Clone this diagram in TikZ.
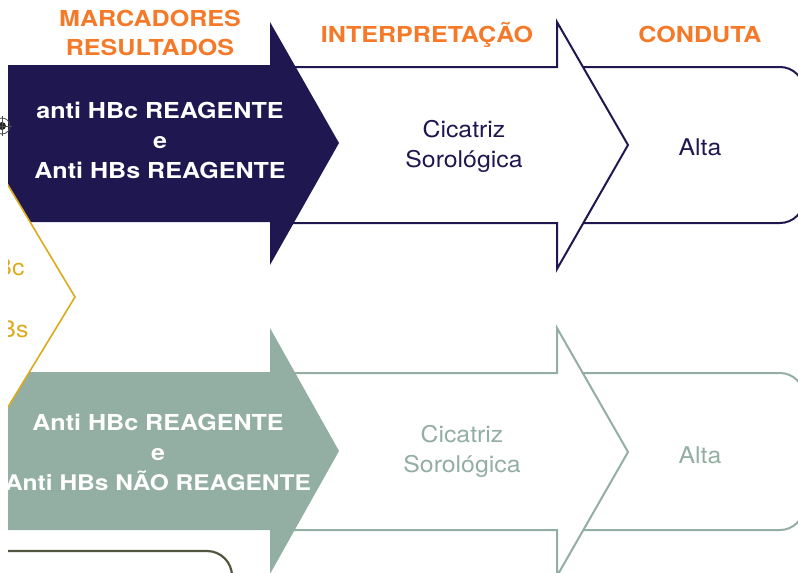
\documentclass[tikz,border=0pt]{standalone}
\usepackage{fontspec}
\setmainfont{TeX Gyre Heros}[UprightFeatures={FakeStretch=1.08},BoldFeatures={FakeStretch=1.14}]
\usepackage{tikz}
\usepackage{xcolor}
\usetikzlibrary{calc}
\definecolor{navycolore}{HTML}{1E1750}
\definecolor{orangecolore}{HTML}{F47A2A}
\definecolor{sagecolore}{HTML}{93AEA3}
\definecolor{goldcolore}{HTML}{DCAA1C}
\definecolor{olivecolore}{HTML}{51573F}
\tikzstyle{colhead} =[
    text=orangecolore,
    font=\fontsize{22}{24}\selectfont\bfseries,
    anchor=base
    ]
\tikzstyle{marktext} =[
    text=white,
    font=\fontsize{22}{24}\selectfont\bfseries,
    anchor=base
    ]
\tikzstyle{plaintext} =[
    font=\fontsize{23}{25}\selectfont,
    anchor=base
    ]
\tikzstyle{outarrow} =[
    fill=white,
    line width=2pt,
    line join=miter
    ]
\tikzstyle{endbox} =[
    line width=2pt,
    rounded corners=24pt
    ]

\begin{document}
\begin{tikzpicture}[x=1pt,y=-1pt]
\useasboundingbox (0,0) rectangle (798,573);
\begin{scope}
\clip (8,0) rectangle (798,573);
% row 1 : conduta and interpretacao
\draw[endbox,draw=navycolore] (570,67) -- (804,67) -- (804,223) -- (570,223);
\draw[outarrow,draw=navycolore] (290,67) -- (557,67) -- (557,22) -- (628,145)
    -- (557,269) -- (557,223) -- (290,223) -- cycle;
% row 2
\draw[endbox,draw=sagecolore] (570,373) -- (804,373) -- (804,530) -- (570,530);
\draw[outarrow,draw=sagecolore] (290,373) -- (557,373) -- (557,328) -- (628,452)
    -- (557,576) -- (557,530) -- (290,530) -- cycle;
% marcadores arrows
\fill[navycolore] (0,65) -- (270,65) -- (270,22) -- (339,143)
    -- (270,265) -- (270,222) -- (0,222) -- cycle;
\fill[sagecolore] (0,372) -- (270,372) -- (270,328) -- (339,451)
    -- (270,574) -- (270,530) -- (0,530) -- cycle;
% chevron behind, left
\draw[fill=white,draw=goldcolore,line width=1.6pt] (-40,105) -- (75,297) -- (-40,486) -- cycle;
\node[plaintext,text=goldcolore,anchor=base east] (hbc) at (28,275) {Bc};
\node[plaintext,text=goldcolore,anchor=base east] (hbs) at (32,337) {Bs};
\draw[olivecolore,line width=2.2pt,rounded corners=25pt] (0,551) -- (232,551) -- (232,600);
\end{scope}
\draw[gray!60!black,line width=0.8pt] (2,126) circle (8);
\fill[gray!30!black] (2,126) circle (4);
\draw[gray!60!black,line width=0.6pt] (-8,126) -- (12,126) (2,116) -- (2,136);

% titles
\node[colhead] (marc) at (150,26) {MARCADORES};
\node[colhead] (res) at (150,55) {RESULTADOS};
\node[colhead] (interp) at (427,42) {INTERPRETAÇÃO};
\node[colhead] (cond) at (700,42) {CONDUTA};

% texts row 1
\node[marktext] (hbcA) at (160,118) {anti HBc REAGENTE};
\node[marktext] (eA) at (160,148) {e};
\node[marktext] (hbsA) at (160,178) {Anti HBs REAGENTE};
\node[plaintext,text=navycolore] (cicA) at (464,137) {Cicatriz};
\node[plaintext,text=navycolore] (soroA) at (464,167) {Sorológica};
\node[plaintext,text=navycolore] (altaA) at (700,155) {Alta};

% texts row 2
\node[marktext] (hbcB) at (158,430) {Anti HBc REAGENTE};
\node[marktext] (eB) at (158,460) {e};
\node[marktext,font=\fontsize{21.5}{24}\selectfont\bfseries] (hbsB) at (158,490) {Anti HBs NÃO REAGENTE};
\node[plaintext,text=sagecolore] (cicB) at (462,442) {Cicatriz};
\node[plaintext,text=sagecolore] (soroB) at (462,472) {Sorológica};
\node[plaintext,text=sagecolore] (altaB) at (700,463) {Alta};
\end{tikzpicture}
\end{document}
